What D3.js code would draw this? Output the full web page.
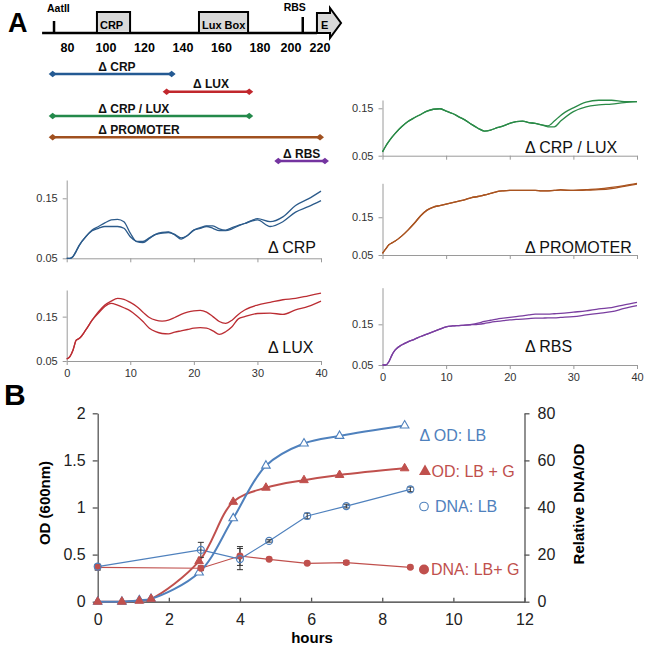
<!DOCTYPE html>
<html><head><meta charset="utf-8">
<script src="https://cdn.jsdelivr.net/npm/d3@7"></script>
<style>
body{margin:0;background:#fff}
svg{display:block}
text{font-family:"Liberation Sans",Arial,Helvetica,sans-serif}
</style>
</head><body>
<svg id="c" width="647" height="649"></svg>
<script>
// ---------------- DATA ----------------
// Panel A: promoter map (bp)
const mapTicks = [80,100,120,140,160,180,200,220];
const siteNames = ['AatII','RBS'];
const sitePos = [73, 208.1];
const boxNames = ['CRP','Lux Box'];
const boxStart = [95.3, 148.3];
const boxEnd = [112.5, 173.8];
const geneName = 'E';
const geneSpan = [217.9, 226.9, 234.5]; // start, head start, tip
const delNames = ['Δ CRP','Δ LUX','Δ CRP / LUX','Δ PROMOTER','Δ RBS'];
const delStart = [72.3, 131.5, 72.3, 72.3, 191.8];
const delEnd = [134.1, 174.4, 174.4, 220, 223.4];

// Panel A: growth curves (hours vs OD)
const smallT = [0,0.5,1,1.5,2,3,4,5,6,7,8,9,10,11,12,13,14,15,16,17,18,19,20,21,22,23,24,25,26,27,28,30,32,34,36,38,40];
const crpA = [.05,.05,.053,.062,.072,.086,.097,.103,.109,.114,.115,.111,.092,.078,.078,.084,.09,.092,.093,.09,.084,.088,.097,.101,.104,.104,.099,.097,.101,.105,.108,.116,.111,.119,.138,.149,.162];
const crpB = [.05,.05,.053,.062,.072,.086,.096,.1,.103,.103,.103,.1,.086,.078,.076,.083,.09,.093,.094,.089,.082,.088,.097,.1,.103,.1,.096,.096,.099,.104,.108,.114,.103,.111,.127,.136,.146];
const luxA = [.055,.06,.075,.097,.101,.12,.142,.161,.176,.185,.191,.189,.182,.173,.16,.148,.142,.14,.142,.148,.155,.16,.163,.164,.16,.15,.139,.135,.142,.155,.165,.176,.182,.188,.191,.197,.203];
const luxB = [.055,.06,.075,.097,.101,.12,.142,.158,.173,.18,.176,.17,.163,.152,.139,.124,.116,.112,.111,.115,.118,.121,.124,.125,.124,.118,.11,.116,.127,.145,.15,.157,.158,.155,.165,.173,.185];
const crpLuxA = [.058,.07,.08,.089,.097,.111,.122,.13,.137,.144,.148,.149,.144,.139,.132,.125,.116,.108,.102,.104,.109,.113,.118,.122,.123,.12,.118,.115,.113,.123,.135,.151,.163,.167,.167,.164,.164];
const crpLuxB = [.058,.07,.08,.089,.097,.111,.122,.13,.137,.144,.148,.149,.144,.139,.132,.125,.116,.108,.102,.104,.109,.113,.118,.122,.123,.12,.118,.115,.111,.111,.123,.143,.153,.157,.159,.162,.164];
const promA = [.054,.066,.077,.082,.087,.1,.116,.134,.154,.169,.177,.181,.185,.189,.193,.197,.202,.205,.209,.213,.218,.22,.221,.221,.221,.221,.221,.22,.22,.221,.223,.221,.223,.225,.229,.234,.24];
const promB = [.054,.066,.077,.082,.087,.1,.116,.134,.154,.169,.177,.181,.185,.189,.193,.197,.202,.205,.209,.213,.218,.22,.221,.221,.221,.221,.221,.22,.22,.221,.222,.221,.222,.223,.226,.232,.238];
const rbsA = [.05,.05,.058,.075,.087,.099,.107,.113,.12,.126,.132,.138,.144,.146,.147,.148,.15,.153,.157,.16,.163,.165,.167,.169,.171,.173,.175,.175,.175,.176,.177,.18,.183,.188,.191,.198,.204];
const rbsB = [.05,.05,.058,.075,.087,.099,.107,.113,.12,.126,.132,.138,.144,.146,.147,.148,.149,.15,.152,.155,.157,.159,.161,.162,.163,.164,.165,.165,.166,.166,.167,.169,.173,.177,.181,.189,.196];
const smallYTicks = [0.05, 0.15];
const smallXTicks = [0,10,20,30,40];

// Panel B
const odTime = [0,0.68,1.17,1.5,2.85,3.81,4.73,5.8,6.8,8.63];
const odLB = [0,0,0.015,0.03,0.31,0.885,1.444,1.68,1.76,1.87];
const odLBG = [0,0,0.01,0.03,0.43,1.06,1.21,1.29,1.345,1.416];
const dnaTime = [0,2.9,4,4.82,5.89,6.99,8.79];
const dnaLB = [14.9,22,18.1,25.8,36.4,40.6,47.7];
const dnaLBErr = [1,3.2,4.5,0.5,1.2,0.8,1];
const dnaLBG = [14.6,14.2,19.4,18.0,16.3,16.6,14.6];
const dnaLBGErr = [1.2,1,4,0.5,0.5,0.8,0.5];
const bXTicks = [0,2,4,6,8,10,12];
const bYLTicks = [0,0.5,1,1.5,2];
const bYRTicks = [0,20,40,60,80];
const legendNames = ['OD: LB','OD: LB + G','DNA: LB','DNA: LB+ G'];

// ---------------- STYLE ----------------
const delColors = ['#245a93','#c1272d','#23894a','#a0501f','#7434a0'];
const smallColors = ['#2c5b8b','#bb2d33','#2a8a47','#a9531f','#7a3ea0'];
const BLUE = '#4f81bd', RED = '#c0504d';

const svg = d3.select('#c');

// ---------------- PANEL A: MAP ----------------
const mapX = d3.scaleLinear().domain([80,180,200,220]).range([67.5,260,291,320]);
const gMap = svg.append('g');
const baseY = 33;
svg.append('text').attr('x',8).attr('y',32).attr('font-size',27).attr('font-weight','bold').text('A');

gMap.append('line').attr('x1',mapX(66.8)).attr('x2',mapX(geneSpan[0])).attr('y1',baseY).attr('y2',baseY)
  .attr('stroke','#000').attr('stroke-width',2.5);
// sites
siteNames.forEach((n,i)=>{
  const x = mapX(sitePos[i]);
  const top = i===0 ? 21 : 17;
  gMap.append('line').attr('x1',x).attr('x2',x).attr('y1',top).attr('y2',baseY).attr('stroke','#000').attr('stroke-width',2.5);
  gMap.append('text').attr('x', i===0 ? x-7 : x-8).attr('y', i===0 ? 12 : 11)
    .attr('font-size',10.5).attr('font-weight','bold').attr('text-anchor', i===0?'start':'middle').text(n);
});
// boxes
boxNames.forEach((n,i)=>{
  const x0 = mapX(boxStart[i]), x1 = mapX(boxEnd[i]);
  gMap.append('rect').attr('x',x0).attr('y',12).attr('width',x1-x0).attr('height',baseY-12)
    .attr('fill','#d9d9d9').attr('stroke','#000').attr('stroke-width',2);
  gMap.append('text').attr('x',x0+3).attr('y',29).attr('font-size',11).attr('font-weight','bold').text(n);
});
// gene arrow
{
  const a = mapX(geneSpan[0]), b = mapX(geneSpan[1]), c = mapX(geneSpan[2]);
  const pts = [[a,13],[b,13],[b,8],[c,23],[b,38],[b,33],[a,33]];
  gMap.append('path').attr('d', d3.line()(pts)+'Z').attr('fill','#d9d9d9').attr('stroke','#000').attr('stroke-width',2);
  gMap.append('text').attr('x',a+4).attr('y',29).attr('font-size',11).attr('font-weight','bold').text(geneName);
}
// tick numbers
gMap.selectAll('text.num').data(mapTicks).join('text').attr('class','num')
  .attr('x',d=>mapX(d)).attr('y',51.5).attr('text-anchor','middle').attr('font-size',12.5).attr('font-weight','bold').text(d=>d);

// deletions
const delY = [74,91.7,116,137.3,161];
const delLabelX = [98.3,193,98.3,98.3,283];
delNames.forEach((n,i)=>{
  const x0 = mapX(delStart[i]), x1 = mapX(delEnd[i]), y = delY[i];
  gMap.append('line').attr('x1',x0).attr('x2',x1).attr('y1',y).attr('y2',y).attr('stroke',delColors[i]).attr('stroke-width',2.5);
  [x0,x1].forEach(x=>{
    gMap.append('path').attr('d',`M${x-4},${y}L${x},${y-3.2}L${x+4},${y}L${x},${y+3.2}Z`).attr('fill',delColors[i]);
  });
  gMap.append('text').attr('x',delLabelX[i]).attr('y',y-3.5).attr('font-size',12).attr('font-weight','bold').attr('fill','#111').text(n);
});

// ---------------- PANEL A: SMALL CHARTS ----------------
const smallSeries = [[crpA,crpB],[luxA,luxB],[crpLuxA,crpLuxB],[promA,promB],[rbsA,rbsB]];
const smallLabels = ['Δ CRP','Δ LUX','Δ CRP / LUX','Δ PROMOTER','Δ RBS'];
const smallLayout = [
  {x0:66.7,x1:321,y0:258.3,yTop:180,vTop:0.1805,lx:268,ly:253,xlab:false},
  {x0:66.7,x1:321,y0:361,yTop:290,vTop:0.21,lx:268,ly:353,xlab:true},
  {x0:382.5,x1:637,y0:155.7,yTop:100,vTop:0.1675,lx:525,ly:153,xlab:false},
  {x0:382.5,x1:637,y0:255,yTop:183.3,vTop:0.24,lx:525,ly:252.7,xlab:false},
  {x0:382.5,x1:637,y0:365,yTop:287.7,vTop:0.24,lx:525,ly:352,xlab:true}
];
smallLayout.forEach((L,i)=>{
  const g = svg.append('g');
  const x = d3.scaleLinear().domain([0,40]).range([L.x0,L.x1]);
  const y = d3.scaleLinear().domain([0.05,L.vTop]).range([L.y0,L.yTop]);
  const ya = g.append('g').attr('transform',`translate(${L.x0},0)`)
    .call(d3.axisLeft(y).tickValues(smallYTicks).tickSize(4).tickSizeOuter(0).tickPadding(5).tickFormat(d3.format('.2f')));
  const xa = g.append('g').attr('transform',`translate(0,${L.y0})`)
    .call(d3.axisBottom(x).tickValues(smallXTicks).tickSize(4).tickSizeOuter(0).tickPadding(4).tickFormat(L.xlab? d3.format('d') : ()=>''));
  [ya,xa].forEach(a=>{
    a.selectAll('path,line').attr('stroke','#9a9a9a').attr('stroke-width',1);
    a.selectAll('text').attr('font-size',11).attr('fill','#333').attr('font-family','"Liberation Sans",Arial,sans-serif');
  });
  const line = d3.line().x((d,j)=>x(smallT[j])).y(d=>y(d)).curve(d3.curveMonotoneX);
  smallSeries[i].forEach(s=>{
    g.append('path').attr('d',line(s)).attr('fill','none').attr('stroke',smallColors[i]).attr('stroke-width',1.3);
  });
  g.append('text').attr('x',L.lx).attr('y',L.ly).attr('font-size',16).attr('fill','#111').text(smallLabels[i]);
});

// ---------------- PANEL B ----------------
svg.append('text').attr('x',4).attr('y',405).attr('font-size',30).attr('font-weight','bold').text('B');
const xB = d3.scaleLinear().domain([0,12]).range([97.7,524.5]);
const yL = d3.scaleLinear().domain([0,2]).range([601.7,413.3]);
const yR = d3.scaleLinear().domain([0,80]).range([601.7,413.3]);
const gB = svg.append('g');
const axX = gB.append('g').attr('transform',`translate(0,${yL(0)})`)
  .call(d3.axisBottom(xB).tickValues(bXTicks).tickSizeInner(-4).tickSizeOuter(0).tickPadding(12).tickFormat(d3.format('d')));
const axL = gB.append('g').attr('transform',`translate(${xB(0)},0)`)
  .call(d3.axisLeft(yL).tickValues(bYLTicks).tickSize(5).tickSizeOuter(0).tickPadding(7).tickFormat(d=>String(d)));
const axR = gB.append('g').attr('transform',`translate(${xB(12)},0)`)
  .call(d3.axisRight(yR).tickValues(bYRTicks).tickSize(5).tickSizeOuter(0).tickPadding(8).tickFormat(d3.format('d')));
[axX,axL,axR].forEach(a=>{
  a.selectAll('path,line').attr('stroke','#555').attr('stroke-width',1.3);
  a.selectAll('text').attr('font-size',16).attr('fill','#222').attr('font-family','"Liberation Sans",Arial,sans-serif');
});
axX.select('path').attr('stroke','#333');

gB.append('text').attr('transform','translate(49.5,503) rotate(-90)').attr('text-anchor','middle')
  .attr('font-size',15).attr('font-weight','bold').text('OD (600nm)');
gB.append('text').attr('transform','translate(584,504) rotate(-90)').attr('text-anchor','middle')
  .attr('font-size',15).attr('font-weight','bold').text('Relative DNA/OD');
gB.append('text').attr('x',312).attr('y',643).attr('text-anchor','middle')
  .attr('font-size',15).attr('font-weight','bold').text('hours');

// DNA lines (thin, straight)
const dnaLine = d3.line().x((d,j)=>xB(dnaTime[j])).y(d=>yR(d));
gB.append('path').attr('d',dnaLine(dnaLBG)).attr('fill','none').attr('stroke',RED).attr('stroke-width',1.2);
gB.append('path').attr('d',dnaLine(dnaLB)).attr('fill','none').attr('stroke',BLUE).attr('stroke-width',1.2);
// OD lines (smooth)
const odLine = d3.line().x((d,j)=>xB(odTime[j])).y(d=>yL(d)).curve(d3.curveCatmullRom.alpha(0.5));
gB.append('path').attr('d',odLine(odLBG)).attr('fill','none').attr('stroke',RED).attr('stroke-width',2);
gB.append('path').attr('d',odLine(odLB)).attr('fill','none').attr('stroke',BLUE).attr('stroke-width',2);

// error bars
function errBars(vals, errs, color){
  vals.forEach((v,j)=>{
    const x = xB(dnaTime[j]), y1 = yR(v-errs[j]), y2 = yR(v+errs[j]);
    gB.append('line').attr('x1',x).attr('x2',x).attr('y1',y1).attr('y2',y2).attr('stroke',color).attr('stroke-width',1);
    [y1,y2].forEach(yy=>gB.append('line').attr('x1',x-3).attr('x2',x+3).attr('y1',yy).attr('y2',yy).attr('stroke',color).attr('stroke-width',1));
  });
}
errBars(dnaLBG, dnaLBGErr, '#333');
errBars(dnaLB, dnaLBErr, '#333');

// markers
const tri = d3.symbol().type(d3.symbolTriangle).size(32);
const circ = d3.symbol().type(d3.symbolCircle).size(38);
odLB.forEach((v,j)=>gB.append('path').attr('d',tri()).attr('transform',`translate(${xB(odTime[j])},${yL(v)})`)
  .attr('fill','#fff').attr('stroke',BLUE).attr('stroke-width',1.1));
odLBG.forEach((v,j)=>gB.append('path').attr('d',tri()).attr('transform',`translate(${xB(odTime[j])},${yL(v)})`)
  .attr('fill',RED).attr('stroke',RED).attr('stroke-width',1));
dnaLBG.forEach((v,j)=>gB.append('path').attr('d',circ()).attr('transform',`translate(${xB(dnaTime[j])},${yR(v)})`)
  .attr('fill',RED));
dnaLB.forEach((v,j)=>gB.append('path').attr('d',circ()).attr('transform',`translate(${xB(dnaTime[j])},${yR(v)})`)
  .attr('fill','none').attr('stroke',BLUE).attr('stroke-width',1.2));

// legend
const lg = gB.append('g').attr('font-size',16);
lg.append('text').attr('x',419.5).attr('y',441).attr('fill',BLUE).text('Δ '+legendNames[0]);
lg.append('path').attr('d',d3.symbol().type(d3.symbolTriangle).size(62)()).attr('transform','translate(425,471.5)').attr('fill',RED);
lg.append('text').attr('x',431.5).attr('y',477).attr('fill',RED).text(legendNames[1]);
lg.append('circle').attr('cx',424).attr('cy',506.5).attr('r',4.3).attr('fill','none').attr('stroke',BLUE).attr('stroke-width',1.1);
lg.append('text').attr('x',435).attr('y',512).attr('fill',BLUE).text(legendNames[2]);
lg.append('circle').attr('cx',424).attr('cy',569.5).attr('r',5).attr('fill',RED);
lg.append('text').attr('x',431).attr('y',575).attr('fill',RED).text(legendNames[3]);
</script>
</body></html>
